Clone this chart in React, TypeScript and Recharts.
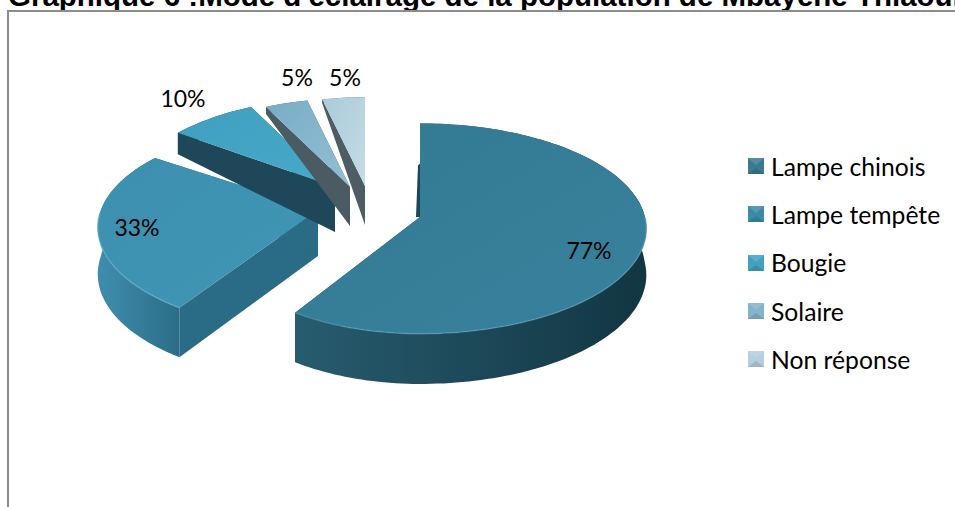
import React from "react";
import { Legend, Pie, PieChart } from "recharts";

const categories = ["Lampe chinois", "Lampe tempête", "Bougie", "Solaire", "Non réponse"];
const values = [77, 33, 10, 5, 5];
const labels = ["77%", "33%", "10%", "5%", "5%"];

const data = categories.map((name, i) => ({ name, value: values[i] }));

// explosion of each slice from the pie centre, in px
const apexDx = [0, -102, -85, -70, -55];
const apexDy = [0, -7, -30, -30, -31];
// the 3D projection differs a bit between the big slice and the small ones
const radiusScale = [0.976, 1.024, 1, 1, 1];
const perspective = [0.11, 0.169, 0.195, 0.195, 0.195];
const tilt = [0.49, 0.473, 0.5, 0.5, 0.5];
const baseDepth = [46, 46, 45, 39, 39];

const topColors = [
    ["#337a94", "#38819c"],
    ["#3d8fae", "#4096b6"],
    ["#3f9fc0", "#48a9c8"],
    ["#78adc7", "#93bfd3"],
    ["#aacbd9", "#c4dce5"],
];
const rimColors = [
    ["#275c6f", "#123642"],
    ["#3f8eae", "#2b6d88"],
    ["#1e4759", "#1e4759"],
    ["#4a5b64", "#4a5b64"],
    ["#4e5c63", "#4e5c63"],
];
const wallColors = ["#1d4656", "#2a6b85", "#1e4759", "#4a5b64", "#4e5c63"];
const edgeColors = ["#5a9db5", "#62b0cc", "#62b8d4", "#9cc8da", "#cfe3ea"];
const legendColors = ["#3b7a93", "#3c8aa9", "#42a1c0", "#82b4cb", "#b4cfdd"];

const labelX = [589, 137, 183, 297, 345];
const labelY = [250, 227, 98, 77, 77];

const project = (i: number, r: number, theta: number) => {
    const s = Math.sin(theta);
    const c = Math.cos(theta);
    const R = r * radiusScale[i];
    const rx = s > 0 ? R * 1.087 : R;
    const k = 1 / (1 + perspective[i] * c);
    return {
        x: rx * s * k,
        y: -r * tilt[i] * c * k,
        up: r * c,
    };
};

// the far side of the block is foreshortened a lot
const depthAt = (i: number, up: number) =>
    up > 0 ? Math.max(2, baseDepth[i] * (1 - up / 230)) : baseDepth[i] - 0.02 * up;

const pts = (list: { x: number; y: number }[]) =>
    list.map((p) => `${p.x.toFixed(1)},${p.y.toFixed(1)}`).join(" ");

const Slice3D = (props: any) => {
    const { cx, cy, outerRadius, startAngle, endAngle, index } = props;
    const i = index ?? categories.indexOf(props.name);
    const a = ((90 - startAngle) * Math.PI) / 180;
    const b = ((90 - endAngle) * Math.PI) / 180;
    const ox = cx + apexDx[i];
    const oy = cy + apexDy[i];

    const rim: { x: number; y: number; up: number }[] = [];
    const steps = Math.max(6, Math.round((b - a) * 40));
    for (let n = 0; n <= steps; n++) {
        const p = project(i, outerRadius, a + ((b - a) * n) / steps);
        rim.push({ x: ox + p.x, y: oy + p.y, up: p.up });
    }
    const apex = { x: ox, y: oy, up: 0 };
    const down = (p: { x: number; y: number; up: number }) => ({ x: p.x, y: p.y + depthAt(i, p.up) });

    const first = rim[0];
    const last = rim[rim.length - 1];
    const topId = `top-${i}`;
    const rimId = `rim-${i}`;
    const front = rim.filter((p) => p.up < 0);

    return (
        <g>
            <defs>
                <linearGradient id={topId} x1="0" y1="0" x2="1" y2="1">
                    <stop offset="0%" stopColor={topColors[i][0]} />
                    <stop offset="100%" stopColor={topColors[i][1]} />
                </linearGradient>
                <linearGradient id={rimId} x1="0" y1="0" x2="1" y2="0">
                    <stop offset="0%" stopColor={rimColors[i][0]} />
                    <stop offset="100%" stopColor={rimColors[i][1]} />
                </linearGradient>
            </defs>
            {i === 0 && (
                // thin sliver of the far wall, seen left of the big slice
                <polygon
                    points={pts([
                        apex,
                        { x: first.x, y: first.y + 40 },
                        { x: first.x - 2, y: first.y + 42 },
                        { x: apex.x - 4, y: apex.y },
                    ])}
                    fill={wallColors[0]}
                />
            )}
            <polygon points={pts([apex, first, down(first), down(apex)])} fill={wallColors[i]} />
            <polygon points={pts([apex, last, down(last), down(apex)])} fill={wallColors[i]} />
            <polygon points={pts([...rim, ...rim.map(down).reverse()])} fill={`url(#${rimId})`} />
            <polygon points={pts([apex, ...rim])} fill={`url(#${topId})`} />
            {front.length > 1 && (
                <polyline points={pts(front)} fill="none" stroke={edgeColors[i]} strokeWidth={1.5} opacity={0.6} />
            )}
        </g>
    );
};

const renderLabel = (props: any) => {
    const i = props.index;
    return (
        <text
            x={labelX[i]}
            y={labelY[i]}
            textAnchor="middle"
            dominantBaseline="central"
            fontFamily="Lato, sans-serif"
            fontSize={23}
            fill="#000"
        >
            {labels[i]}
        </text>
    );
};

const renderLegend = () => (
    <div>
        {categories.map((name, i) => (
            <div key={name} style={{ height: 48.3, display: "flex", alignItems: "center" }}>
                <svg width={18} height={18} style={{ marginRight: 6 }}>
                    <rect x={1} y={1} width={16} height={16} fill={legendColors[i]} />
                    <polygon points="1,1 17,1 9,8" fill="#fff" opacity={0.14} />
                    <polygon points="1,17 17,17 9,11" fill="#000" opacity={0.12} />
                </svg>
                <span style={{ fontFamily: "Lato, sans-serif", fontSize: 24.7, color: "#000" }}>{name}</span>
            </div>
        ))}
    </div>
);

const App = () => {
    return (
        <div style={{ position: "fixed", left: 0, top: 0, width: 955, height: 507, overflow: "hidden", background: "#fff" }}>
            <div
                style={{
                    position: "absolute",
                    left: 8,
                    top: -21,
                    whiteSpace: "nowrap",
                    fontFamily: "'Liberation Sans', Arial, sans-serif",
                    fontWeight: "bold",
                    fontSize: 29.5,
                    lineHeight: "34px",
                    color: "#000",
                }}
            >
                Graphique 6 :Mode d'éclairage de la population de Mbayène Thiaoune
            </div>
            <div
                style={{
                    position: "absolute",
                    left: 7,
                    top: 10,
                    width: 960,
                    height: 510,
                    borderLeft: "2px solid #8c8c8c",
                    borderTop: "2px solid #8c8c8c",
                }}
            />
            <div style={{ position: "absolute", left: 0, top: 0 }}>
                <PieChart width={955} height={507} margin={{ top: 0, right: 0, bottom: 0, left: 0 }}>
                    <Pie
                        data={data}
                        dataKey="value"
                        nameKey="name"
                        cx={420}
                        cy={217}
                        outerRadius={212}
                        startAngle={90}
                        endAngle={-270}
                        stroke="none"
                        label={renderLabel}
                        labelLine={false}
                        shape={Slice3D}
                        isAnimationActive={false}
                    />
                    <Legend
                        layout="vertical"
                        align="right"
                        verticalAlign="top"
                        content={renderLegend}
                        wrapperStyle={{ left: 747, top: 142, width: 208 }}
                    />
                </PieChart>
            </div>
        </div>
    );
};

export default App;
